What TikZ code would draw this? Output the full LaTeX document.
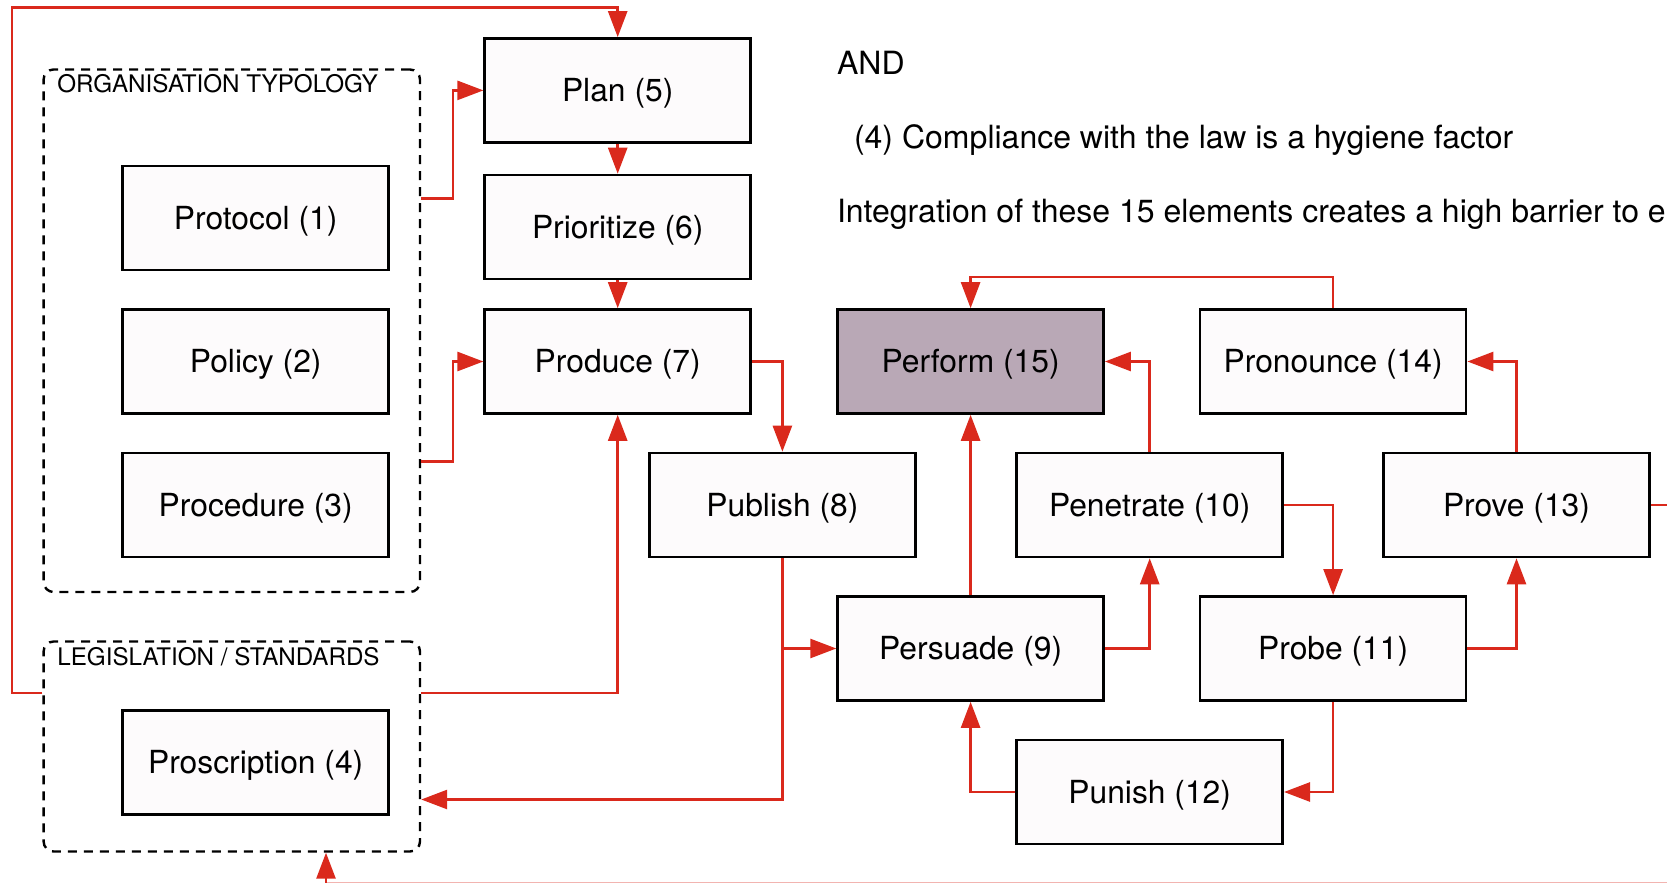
\documentclass[tikz,border=0pt]{standalone}
\usepackage{fontspec}
\setmainfont{TeX Gyre Heros}
\usetikzlibrary{arrows.meta}
\definecolor{linkred}{RGB}{218,41,28}
\definecolor{boxfill}{RGB}{253,251,252}
\definecolor{goalfill}{RGB}{185,168,182}
\begin{document}
\begin{tikzpicture}[x=0.5pt,y=-0.5pt,
  stage/.style={draw=black, line width=1.3pt, fill=boxfill, minimum width=133pt,
    minimum height=52pt, inner sep=0pt, text height=13.8pt, text depth=2.4pt,
    font=\fontsize{15.9}{19}\selectfont},
  group/.style={draw=black, line width=1.2pt, dash pattern=on 4.5pt off 3.5pt,
    rounded corners=5pt, inner sep=0pt},
  grouplabel/.style={anchor=base west, inner sep=0pt, font=\fontsize{12.1}{14}\selectfont},
  note/.style={anchor=base west, inner sep=0pt, font=\fontsize{16}{19}\selectfont},
  conn/.style={draw=linkred, line width=1.3pt, -{Triangle[length=13pt,width=9.5pt]}},
  wire/.style={draw=linkred, line width=1.3pt},
]
\useasboundingbox (0,0) rectangle (1667,883);

% grouping frames
\node[group, minimum width=188.2pt, minimum height=261.25pt] (org) at (231.8,330.75) {};
\node[group, minimum width=188.2pt, minimum height=105pt] (leg) at (231.8,746.5) {};
\node[grouplabel] (orglabel) at (57,93) {ORGANISATION TYPOLOGY};
\node[grouplabel] (leglabel) at (57,665) {LEGISLATION / STANDARDS};

% stages
\node[stage] (prot) at (255.7,218)   {Protocol (1)};
\node[stage] (poli) at (255.7,361.5) {Policy (2)};
\node[stage] (proc) at (255.7,505)   {Procedure (3)};
\node[stage] (pros) at (255.7,762.2) {Proscription (4)};
\node[stage] (plan) at (617.7,90.4)  {Plan (5)};
\node[stage] (prio) at (617.7,227)   {Prioritize (6)};
\node[stage] (prod) at (617.7,361.5) {Produce (7)};
\node[stage] (publ) at (782.4,505)   {Publish (8)};
\node[stage] (pers) at (970.6,648.5) {Persuade (9)};
\node[stage] (pene) at (1149.7,505)  {Penetrate (10)};
\node[stage] (prob) at (1333.1,648.5) {Probe (11)};
\node[stage] (puni) at (1149.7,792)  {Punish (12)};
\node[stage] (prov) at (1516.5,505)  {Prove (13)};
\node[stage] (pron) at (1333.1,361.5) {Pronounce (14)};
\node[stage, fill=goalfill] (perf) at (970.6,361.5) {Perform (15)};

% notes
\node[note] (and)   at (836.7,74.5)  {AND};
\node[note] (hyg)   at (853.6,148.5) {(4) Compliance with the law is a hygiene factor};
\node[note] (integ) at (836.6,222.5) {Integration of these 15 elements creates a high barrier to e};

% connectors
\draw[conn] (leg.west |- 0,693) -| (12,7.5) -| (plan.north);
\draw[conn] (org.east |- 0,198.8) -- (453,198.8) |- (plan.west);
\draw[conn] (org.east |- 0,461.5) -- (453,461.5) |- (prod.west);
\draw[conn] (plan) -- (prio);
\draw[conn] (prio) -- (prod);
\draw[conn] (prod.east) -| (publ.north);
\draw[conn] (publ.south) |- (pers.west);
\draw[conn] (publ.south) |- (leg.east |- 0,799.5);
\draw[conn] (leg.east |- 0,693) -| (prod.south);
\draw[conn] (pers) -- (perf);
\draw[conn] (pers.east) -| (pene.south);
\draw[conn] (pene.north) |- (perf.east);
\draw[conn] (pene.east) -| (prob.north);
\draw[conn] (prob.east) -| (prov.south);
\draw[conn] (prov.north) |- (pron.east);
\draw[conn] (pron.north) |- (perf.north |- 0,277) -- (perf.north);
\draw[conn] (prob.south) |- (puni.east);
\draw[conn] (puni.west) -| (pers.south);
\coordinate (rightedge) at (1667,505);
\draw[wire] (prov.east) -- (rightedge);
% return line along the lower edge, mostly cut off by the page
\coordinate (bottomedge) at (1667,882.5);
\coordinate (bottomturn) at (326,882.5);
\draw[wire, draw=linkred!35, line width=0.6pt] (bottomedge) -- (bottomturn);
\draw[conn] (bottomturn) -- (leg.south -| bottomturn);
\end{tikzpicture}
\end{document}
